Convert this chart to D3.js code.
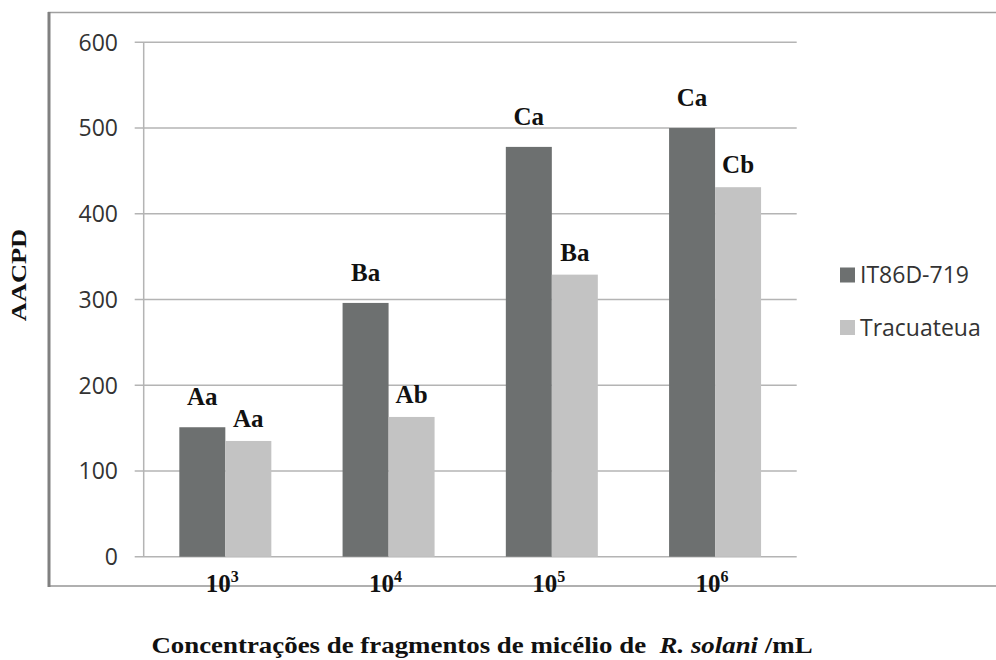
<!DOCTYPE html>
<html><head><meta charset="utf-8">
<script src="https://cdn.jsdelivr.net/npm/d3@7"></script>
<style>body{margin:0;background:#fff}svg{display:block}</style>
</head><body>
<svg id="c" width="996" height="660"></svg>
<script>
const categories = ["3", "4", "5", "6"]; // exponents of 10
const seriesNames = ["IT86D-719", "Tracuateua"];
const it86 = [151, 296, 478, 500];
const tracuateua = [135, 163, 329, 431];
const it86Labels = ["Aa", "Ba", "Ca", "Ca"];
const tracLabels = ["Aa", "Ab", "Ba", "Cb"];
const yTicks = [0, 100, 200, 300, 400, 500, 600];
const colors = ["#6d7070", "#c3c3c3"];

const svg = d3.select("#c");
const L = 143.7, R = 796.7, T = 42.3, B = 556.7;

// frame
svg.append("line").attr("x1",48).attr("x2",996).attr("y1",12.5).attr("y2",12.5).attr("stroke","#a0a0a0").attr("stroke-width",1.5);
svg.append("line").attr("x1",48).attr("x2",996).attr("y1",586).attr("y2",586).attr("stroke","#b0b0b0").attr("stroke-width",2);
svg.append("line").attr("x1",49).attr("x2",49).attr("y1",12).attr("y2",587).attr("stroke","#808080").attr("stroke-width",3);

const x0 = d3.scaleBand().domain(categories).range([L, R]).paddingInner(0).paddingOuter(0);
const groupW = 92;
const x1 = d3.scaleBand().domain(seriesNames).range([0, groupW]);
const y = d3.scaleLinear().domain([0, 600]).range([B, T]);

// grid
svg.append("g").selectAll("line").data(yTicks).join("line")
  .attr("x1", L - 9).attr("x2", R).attr("y1", d => y(d)).attr("y2", d => y(d))
  .attr("stroke", "#b4b4b4").attr("stroke-width", 1.5);
svg.append("line").attr("x1", L).attr("x2", L).attr("y1", T).attr("y2", B).attr("stroke", "#b4b4b4").attr("stroke-width", 1.5);

// tick labels
svg.append("g").selectAll("text").data(yTicks).join("text")
  .attr("x", 118).attr("y", d => y(d)).attr("dy", "0.36em").attr("text-anchor", "end")
  .attr("font-family", "Open Sans").attr("font-size", 23).attr("fill", "#333")
  .text(d => d);

const data = categories.map((c, i) => ({c, vals: [
  {s: seriesNames[0], v: it86[i], lab: it86Labels[i]},
  {s: seriesNames[1], v: tracuateua[i], lab: tracLabels[i]}
]}));

const g = svg.append("g").selectAll("g").data(data).join("g")
  .attr("transform", d => `translate(${x0(d.c) + x0.bandwidth()/2 - groupW/2},0)`);
g.selectAll("rect").data(d => d.vals).join("rect")
  .attr("x", d => x1(d.s)).attr("width", x1.bandwidth())
  .attr("y", d => y(d.v)).attr("height", d => B - y(d.v))
  .attr("fill", (d, i) => colors[i]);
g.selectAll("text.lab").data(d => d.vals).join("text").attr("class","lab")
  .attr("x", d => x1(d.s) + x1.bandwidth()/2).attr("y", (d, i) => y(d.v) - (i === 0 ? 22 : 14))
  .attr("text-anchor", "middle").attr("font-family", "Liberation Serif").attr("font-weight", "bold")
  .attr("font-size", 25).attr("fill", "#111").text(d => d.lab);

// x labels
const xl = svg.append("g").selectAll("text").data(categories).join("text")
  .attr("x", d => x0(d) + x0.bandwidth()/2 - 3).attr("y", 592)
  .attr("text-anchor", "middle").attr("font-family", "Liberation Serif").attr("font-weight", "bold")
  .attr("font-size", 25).attr("fill", "#111");
xl.append("tspan").text("10");
xl.append("tspan").attr("font-size", 16).attr("dy", -10).text(d => d);

// y title
svg.append("text").attr("transform", "translate(26,275) rotate(-90) scale(1.2,1)").attr("text-anchor", "middle")
  .attr("font-family", "Liberation Serif").attr("font-weight", "bold").attr("font-size", 22).attr("fill", "#111")
  .text("AACPD");

// x title
const xt = svg.append("text").attr("transform", "translate(482,653) scale(1.12,1)").attr("text-anchor", "middle")
  .attr("font-family", "Liberation Serif").attr("font-weight", "bold").attr("font-size", 24).attr("fill", "#111");
xt.append("tspan").text("Concentrações de fragmentos de micélio de\u00A0 ");
xt.append("tspan").attr("font-style", "italic").text("R. solani");
xt.append("tspan").text(" /mL");

// legend
const lg = svg.append("g").selectAll("g").data(seriesNames).join("g")
  .attr("transform", (d, i) => `translate(840,${275 + i * 52.5})`);
lg.append("rect").attr("x", 0).attr("y", -7.5).attr("width", 15).attr("height", 15).attr("fill", (d, i) => colors[i]);
lg.append("text").attr("x", 20).attr("y", 0).attr("dy", "0.36em")
  .attr("font-family", "Open Sans").attr("font-size", 23).attr("fill", "#333").text(d => d);
</script>
</body></html>
